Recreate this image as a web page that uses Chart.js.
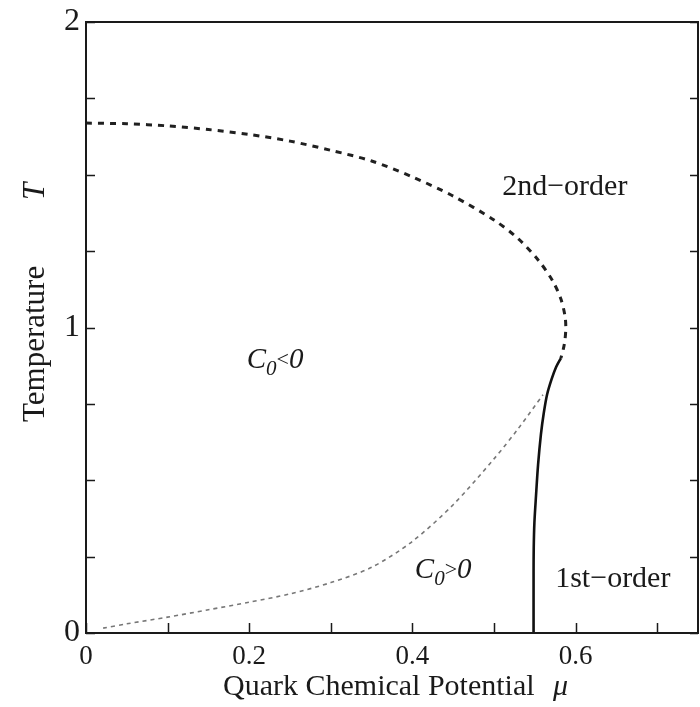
<!DOCTYPE html>
<html>
<head>
<meta charset="utf-8">
<script src="https://cdn.jsdelivr.net/npm/chart.js@4.4.1/dist/chart.umd.min.js"></script>
<style>
  html, body { margin: 0; padding: 0; background: #fff; }
  #wrap { width: 700px; height: 707px; }
</style>
</head>
<body>
<div id="wrap"><canvas id="phase" width="700" height="707"></canvas></div>
<script>
// second-order line (dashed, thick)
const muSecond = [0, 0.05, 0.1, 0.15, 0.2, 0.25, 0.3, 0.35, 0.4, 0.45, 0.5, 0.53, 0.555, 0.572, 0.582, 0.587, 0.588, 0.587, 0.585, 0.582];
const tSecond  = [1.669, 1.667, 1.66, 1.648, 1.632, 1.61, 1.58, 1.545, 1.493, 1.43, 1.352, 1.29, 1.218, 1.152, 1.093, 1.038, 1.0, 0.96, 0.93, 0.90];

// first-order line (solid)
const muFirst = [0.5485, 0.5485, 0.5487, 0.5495, 0.5515, 0.554, 0.5575, 0.561, 0.565, 0.5705, 0.576, 0.582];
const tFirst  = [0, 0.2, 0.28, 0.36, 0.45, 0.55, 0.65, 0.72, 0.78, 0.83, 0.87, 0.90];

// C0 = 0 boundary (thin dotted)
const muC0 = [0.021, 0.05, 0.1, 0.15, 0.2, 0.25, 0.3, 0.35, 0.4, 0.45, 0.5, 0.53, 0.56];
const tC0  = [0.016, 0.03, 0.052, 0.076, 0.101, 0.128, 0.165, 0.215, 0.30, 0.42, 0.57, 0.67, 0.78];

const xTicks = [0, 0.1, 0.2, 0.3, 0.4, 0.5, 0.6, 0.7];
const xLabels = ["0", "", "0.2", "", "0.4", "", "0.6", ""];
const yTicks = [0, 0.25, 0.5, 0.75, 1, 1.25, 1.5, 1.75, 2];
const yLabels = ["0", "", "", "", "1", "", "", "", "2"];

function pts(xs, ys) {
  return xs.map((x, i) => ({ x: x, y: ys[i] }));
}

const SERIF = "'Liberation Serif', 'DejaVu Serif', serif";
const INK = "#1a1a1a";

const framePlugin = {
  id: "frame",
  afterDraw(chart) {
    const ctx = chart.ctx;
    const a = chart.chartArea;
    const xs = chart.scales.x, ys = chart.scales.y;
    ctx.save();
    ctx.strokeStyle = INK;
    ctx.lineWidth = 2;
    ctx.strokeRect(a.left, a.top, a.right - a.left, a.bottom - a.top);

    // inward ticks
    ctx.lineWidth = 1.5;
    ctx.beginPath();
    xTicks.forEach(v => {
      const px = Math.round(xs.getPixelForValue(v)) + 0.5;
      ctx.moveTo(px, a.bottom);
      ctx.lineTo(px, a.bottom - 10);
    });
    yTicks.forEach(v => {
      const py = Math.round(ys.getPixelForValue(v)) + 0.5;
      ctx.moveTo(a.left, py);
      ctx.lineTo(a.left + 9, py);
      ctx.moveTo(a.right, py);
      ctx.lineTo(a.right - 8, py);
    });
    ctx.stroke();

    // axis titles
    ctx.fillStyle = INK;
    ctx.textBaseline = "alphabetic";
    ctx.textAlign = "left";
    ctx.font = "30px " + SERIF;
    ctx.fillText("Quark Chemical Potential", 223, 695);
    ctx.font = "italic 30px " + SERIF;
    ctx.fillText("\u03bc", 553, 695);

    ctx.save();
    ctx.translate(44, 422);
    ctx.rotate(-Math.PI / 2);
    ctx.font = "31px " + SERIF;
    ctx.fillText("Temperature", 0, 0);
    ctx.font = "italic 31px " + SERIF;
    ctx.fillText("T", 222, 0);
    ctx.restore();

    // region labels
    ctx.font = "30px " + SERIF;
    ctx.fillText("2nd\u2212order", xs.getPixelForValue(0.51), ys.getPixelForValue(1.434));
    ctx.fillText("1st\u2212order", xs.getPixelForValue(0.575), ys.getPixelForValue(0.15));

    function c0(mu, t, sign) {
      let x = xs.getPixelForValue(mu), y = ys.getPixelForValue(t);
      ctx.font = "italic 29px " + SERIF;
      ctx.fillText("C", x, y);
      x += ctx.measureText("C").width;
      ctx.font = "italic 21px " + SERIF;
      ctx.fillText("0", x, y + 7);
      x += ctx.measureText("0").width;
      ctx.font = "22px " + SERIF;
      ctx.fillText(sign, x, y - 2);
      x += ctx.measureText(sign).width;
      ctx.font = "italic 29px " + SERIF;
      ctx.fillText("0", x, y);
    }
    c0(0.197, 0.869, "<");
    c0(0.403, 0.18, ">");
    ctx.restore();
  }
};

new Chart(document.getElementById("phase"), {
  type: "scatter",
  data: {
    datasets: [
      {
        label: "2nd-order",
        data: pts(muSecond, tSecond),
        showLine: true,
        borderColor: "#202020",
        borderWidth: 3,
        borderDash: [6, 6],
        pointRadius: 0,
        tension: 0.3
      },
      {
        label: "1st-order",
        data: pts(muFirst, tFirst),
        showLine: true,
        borderColor: "#111",
        borderWidth: 2.6,
        pointRadius: 0,
        tension: 0.3
      },
      {
        label: "C0 = 0",
        data: pts(muC0, tC0),
        showLine: true,
        borderColor: "#777",
        borderWidth: 1.6,
        borderDash: [4, 4],
        pointRadius: 0,
        tension: 0.3
      }
    ]
  },
  options: {
    responsive: false,
    animation: false,
    devicePixelRatio: 1,
    layout: { padding: { top: 22, right: 2, left: 0, bottom: 0 } },
    plugins: { legend: { display: false }, tooltip: { enabled: false } },
    scales: {
      x: {
        type: "linear",
        min: 0,
        max: 0.75,
        grid: { display: false },
        border: { display: false },
        afterBuildTicks: s => { s.ticks = xTicks.map(v => ({ value: v })); },
        afterFit: s => { s.height = 74; },
        ticks: {
          autoSkip: false,
          maxRotation: 0,
          padding: 0,
          color: INK,
          font: { family: SERIF, size: 27 },
          callback: (v, i) => xLabels[i]
        }
      },
      y: {
        type: "linear",
        min: 0,
        max: 2,
        grid: { display: false },
        border: { display: false },
        afterBuildTicks: s => { s.ticks = yTicks.map(v => ({ value: v })); },
        afterFit: s => { s.width = 86; },
        ticks: {
          autoSkip: false,
          padding: -2,
          color: INK,
          font: { family: SERIF, size: 32 },
          callback: (v, i) => yLabels[i]
        }
      }
    }
  },
  plugins: [framePlugin]
});
</script>
</body>
</html>
